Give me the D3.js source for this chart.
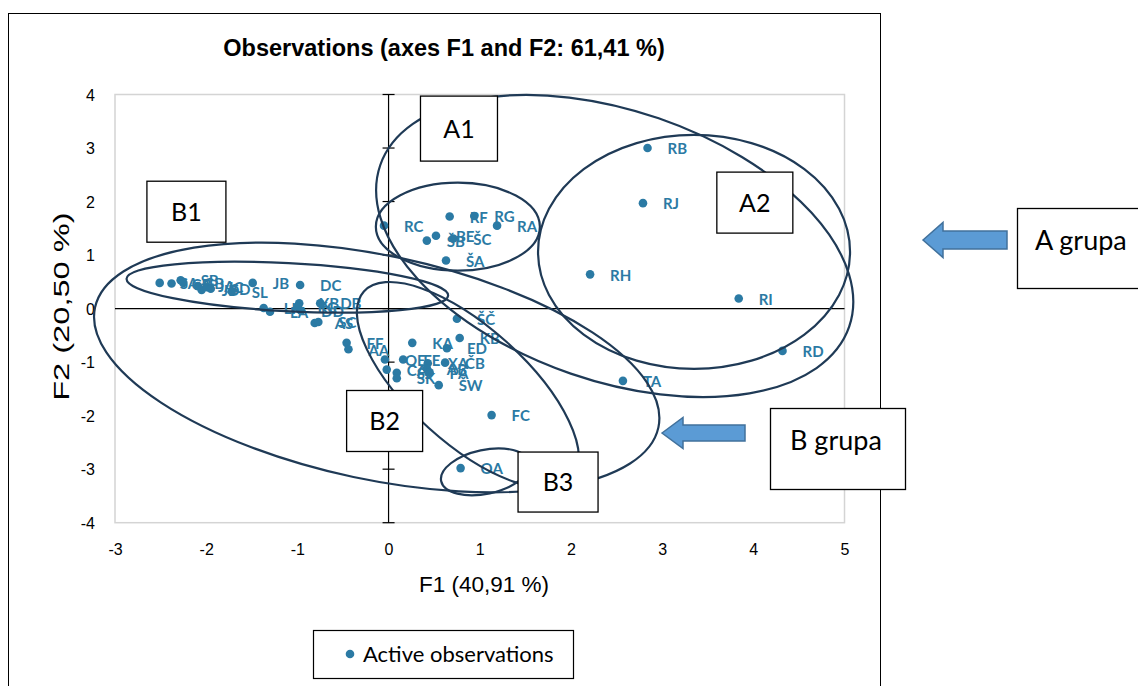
<!DOCTYPE html>
<html>
<head>
<meta charset="utf-8">
<script src="https://cdn.jsdelivr.net/npm/d3@7"></script>
<style>
  html, body { margin: 0; padding: 0; background: #fff; }
  svg { display: block; }
</style>
</head>
<body>
<script>
// Observation scores on the first two factor axes
const names = ["RB","RJ","RH","RI","RD","TA","RC","RF","RG","RA","ŠB","BE","ŠC","ŠA",
  "SA","CB","SB","GB","JA","JD","JC","SD","SL","JB","DC","LI","LA","XB","KC","DD","DB","AS","SC","FF","AA",
  "ŠČ","KB","KA","ED","QE","FE","XA","AB","ČB","PA","CA","SJ","SK","ŠW","FC","OA"];
const f1 = [2.84, 2.79, 2.21, 3.84, 4.32, 2.57, -0.05, 0.67, 0.94, 1.19, 0.42, 0.52, 0.71, 0.63,
  -2.51, -2.38, -2.28, -2.25, -2.09, -2.05, -1.99, -1.95, -1.72, -1.49, -0.97, -1.37, -1.30, -0.98, -1.00, -0.96, -0.75, -0.81, -0.77, -0.46, -0.44,
  0.75, 0.78, 0.26, 0.64, -0.04, 0.16, 0.43, 0.42, 0.62, 0.45, -0.02, 0.09, 0.09, 0.55, 1.13, 0.79];
const f2 = [3.00, 1.97, 0.64, 0.19, -0.79, -1.35, 1.55, 1.72, 1.73, 1.55, 1.27, 1.36, 1.31, 0.90,
  0.48, 0.47, 0.53, 0.48, 0.42, 0.35, 0.40, 0.37, 0.32, 0.48, 0.44, 0.01, -0.06, 0.10, 0.03, -0.04, 0.10, -0.27, -0.25, -0.64, -0.76,
  -0.19, -0.55, -0.64, -0.74, -0.95, -0.95, -1.02, -1.12, -1.01, -1.19, -1.14, -1.20, -1.30, -1.43, -1.99, -2.98];

const xTicks = [-3, -2, -1, 0, 1, 2, 3, 4, 5];
const yTicks = [-4, -3, -2, -1, 0, 1, 2, 3, 4];

const titleText = "Observations (axes F1 and F2: 61,41 %)";
const xTitle = "F1 (40,91 %)";
const yTitle = "F2 (20,50 %)";
const legendText = "Active observations";

// Cluster outlines: centre in axis units, semi-axes in px, rotation in degrees
const clusters = [
  { cx: 0.76, cy: 1.53, a: 82, b: 44, rot: 0 },
  { cx: 2.48, cy: 1.17, a: 248, b: 135, rot: 19 },
  { cx: 3.35, cy: 1.06, a: 156, b: 117, rot: 0 },
  { cx: -0.13, cy: -1.10, a: 288, b: 112, rot: 12 },
  { cx: -1.11, cy: 0.40, a: 161, b: 24, rot: 3 },
  { cx: 0.87, cy: -1.43, a: 140, b: 58, rot: 42 },
  { cx: 1.06, cy: -3.05, a: 45, b: 22, rot: -12 }
];

// Group label boxes (axis units for the top-left corner, px for size)
const groupBoxes = [
  { text: "A1", x: 0.35, y: 3.97, w: 77, h: 65 },
  { text: "A2", x: 3.60, y: 2.55, w: 76, h: 61 },
  { text: "B1", x: -2.65, y: 2.38, w: 79, h: 61 },
  { text: "B2", x: -0.46, y: -1.53, w: 76, h: 61 },
  { text: "B3", x: 1.42, y: -2.68, w: 80, h: 60 }
];

const W = 1138, H = 686;
const svg = d3.select("body").append("svg").attr("width", W).attr("height", H);
svg.append("rect").attr("width", W).attr("height", H).attr("fill", "#fff");

const x = d3.scaleLinear().domain([-3, 5]).range([115, 844.5]);
const y = d3.scaleLinear().domain([-4, 4]).range([522.7, 94.5]);

const arial = "'Liberation Sans', Arial, sans-serif";
const cal = "Lato, 'Open Sans', sans-serif";
const pointColor = "#2b7aa4";
const lineColor = "#1f3a56";

// Outer chart frame
svg.append("rect").attr("x", 8.5).attr("y", 13.5).attr("width", 872).attr("height", 700)
  .attr("fill", "none").attr("stroke", "#000").attr("stroke-width", 1);

// Title
svg.append("text").attr("x", 444).attr("y", 56).attr("text-anchor", "middle")
  .attr("font-family", arial).attr("font-weight", "bold").attr("font-size", 23.5)
  .text(titleText);

// Plot area border
svg.append("rect").attr("x", x(-3)).attr("y", y(4))
  .attr("width", x(5) - x(-3)).attr("height", y(-4) - y(4))
  .attr("fill", "none").attr("stroke", "#d4d4d4").attr("stroke-width", 1.5);

// Tick labels
const fmt = d => String(d);
const xAxis = svg.append("g").attr("transform", `translate(0,${y(-4)})`)
  .call(d3.axisBottom(x).tickValues(xTicks).tickSize(0).tickPadding(21).tickFormat(fmt));
const yAxis = svg.append("g").attr("transform", `translate(${x(-3)},0)`)
  .call(d3.axisLeft(y).tickValues(yTicks).tickSize(0).tickPadding(20).tickFormat(fmt));
[xAxis, yAxis].forEach(g => {
  g.select(".domain").remove();
  g.selectAll("text").attr("font-family", arial).attr("font-size", 16).attr("fill", "#000");
});
yAxis.selectAll("text").attr("dy", "0.35em");

// Axis lines through the origin
svg.append("line").attr("x1", x(-3)).attr("x2", x(5)).attr("y1", y(0)).attr("y2", y(0))
  .attr("stroke", "#000").attr("stroke-width", 1.2);
svg.append("line").attr("x1", x(0)).attr("x2", x(0)).attr("y1", y(4)).attr("y2", y(-4))
  .attr("stroke", "#000").attr("stroke-width", 1.2);
svg.append("g").selectAll("line").data(yTicks).join("line")
  .attr("x1", x(0) - 6).attr("x2", x(0) + 6)
  .attr("y1", d => y(d)).attr("y2", d => y(d))
  .attr("stroke", "#000").attr("stroke-width", 1.2);

// Axis titles (the vertical one is drawn elongated along its baseline)
svg.append("text").attr("x", 484).attr("y", 592).attr("text-anchor", "middle")
  .attr("font-family", arial).attr("font-size", 22.5).text(xTitle);
svg.append("text").attr("transform", `translate(69,${y(0) - 2}) rotate(-90) scale(1.45,1)`)
  .attr("text-anchor", "middle").attr("font-family", arial).attr("font-size", 22.5).text(yTitle);

// Points and labels
const pts = names.map((n, i) => ({ name: n, f1: f1[i], f2: f2[i] }));
svg.append("g").selectAll("circle").data(pts).join("circle")
  .attr("cx", d => x(d.f1)).attr("cy", d => y(d.f2)).attr("r", 4.3)
  .attr("fill", pointColor);
svg.append("g").selectAll("text").data(pts).join("text")
  .attr("x", d => x(d.f1) + 20).attr("y", d => y(d.f2) + 1)
  .attr("dy", "0.35em")
  .attr("font-family", cal).attr("font-weight", "bold").attr("font-size", 15)
  .attr("fill", pointColor).text(d => d.name);

// Cluster outlines
svg.append("g").selectAll("ellipse").data(clusters).join("ellipse")
  .attr("cx", d => x(d.cx)).attr("cy", d => y(d.cy))
  .attr("rx", d => d.a).attr("ry", d => d.b)
  .attr("transform", d => `rotate(${d.rot},${x(d.cx)},${y(d.cy)})`)
  .attr("fill", "none").attr("stroke", lineColor).attr("stroke-width", 2.2);

// Group label boxes
const gb = svg.append("g").selectAll("g").data(groupBoxes).join("g");
gb.append("rect").attr("x", d => x(d.x)).attr("y", d => y(d.y))
  .attr("width", d => d.w).attr("height", d => d.h)
  .attr("fill", "#fff").attr("stroke", "#000").attr("stroke-width", 1.3);
gb.append("text").attr("x", d => x(d.x) + d.w / 2).attr("y", d => y(d.y) + d.h / 2)
  .attr("dy", "0.36em").attr("text-anchor", "middle")
  .attr("font-family", cal).attr("font-size", 25).text(d => d.text);

// Side callouts with arrows
const callouts = [
  { text: "A grupa", bx: 1017, by: 208, bw: 140, bh: 80, tx: 1035, tip: [923, 240], headX: 943, headH: 17.5, shaftH: 9, endX: 1007 },
  { text: "B grupa", bx: 770, by: 408, bw: 135, bh: 81, tx: 790, tip: [662, 433], headX: 683, headH: 15.5, shaftH: 8, endX: 745 }
];
callouts.forEach(c => {
  svg.append("rect").attr("x", c.bx + 0.5).attr("y", c.by + 0.5).attr("width", c.bw).attr("height", c.bh)
    .attr("fill", "#fff").attr("stroke", "#000").attr("stroke-width", 1.3);
  svg.append("text").attr("x", c.tx).attr("y", c.by + 32).attr("dy", "0.36em")
    .attr("font-family", cal).attr("font-size", 27).text(c.text);
  const [tx, ty] = c.tip;
  const p = d3.path();
  p.moveTo(tx, ty);
  p.lineTo(c.headX, ty - c.headH);
  p.lineTo(c.headX, ty - c.shaftH);
  p.lineTo(c.endX, ty - c.shaftH);
  p.lineTo(c.endX, ty + c.shaftH);
  p.lineTo(c.headX, ty + c.shaftH);
  p.lineTo(c.headX, ty + c.headH);
  p.closePath();
  svg.append("path").attr("d", p.toString()).attr("fill", "#5b9bd5")
    .attr("stroke", "#41719c").attr("stroke-width", 1.5);
});

// Legend
svg.append("rect").attr("x", 313.5).attr("y", 630.5).attr("width", 260).attr("height", 48)
  .attr("fill", "#fff").attr("stroke", "#000").attr("stroke-width", 1.2);
svg.append("circle").attr("cx", 350).attr("cy", 654).attr("r", 4.3).attr("fill", pointColor);
svg.append("text").attr("x", 363).attr("y", 654).attr("dy", "0.36em")
  .attr("font-family", cal).attr("font-size", 22).text(legendText);
</script>
</body>
</html>
